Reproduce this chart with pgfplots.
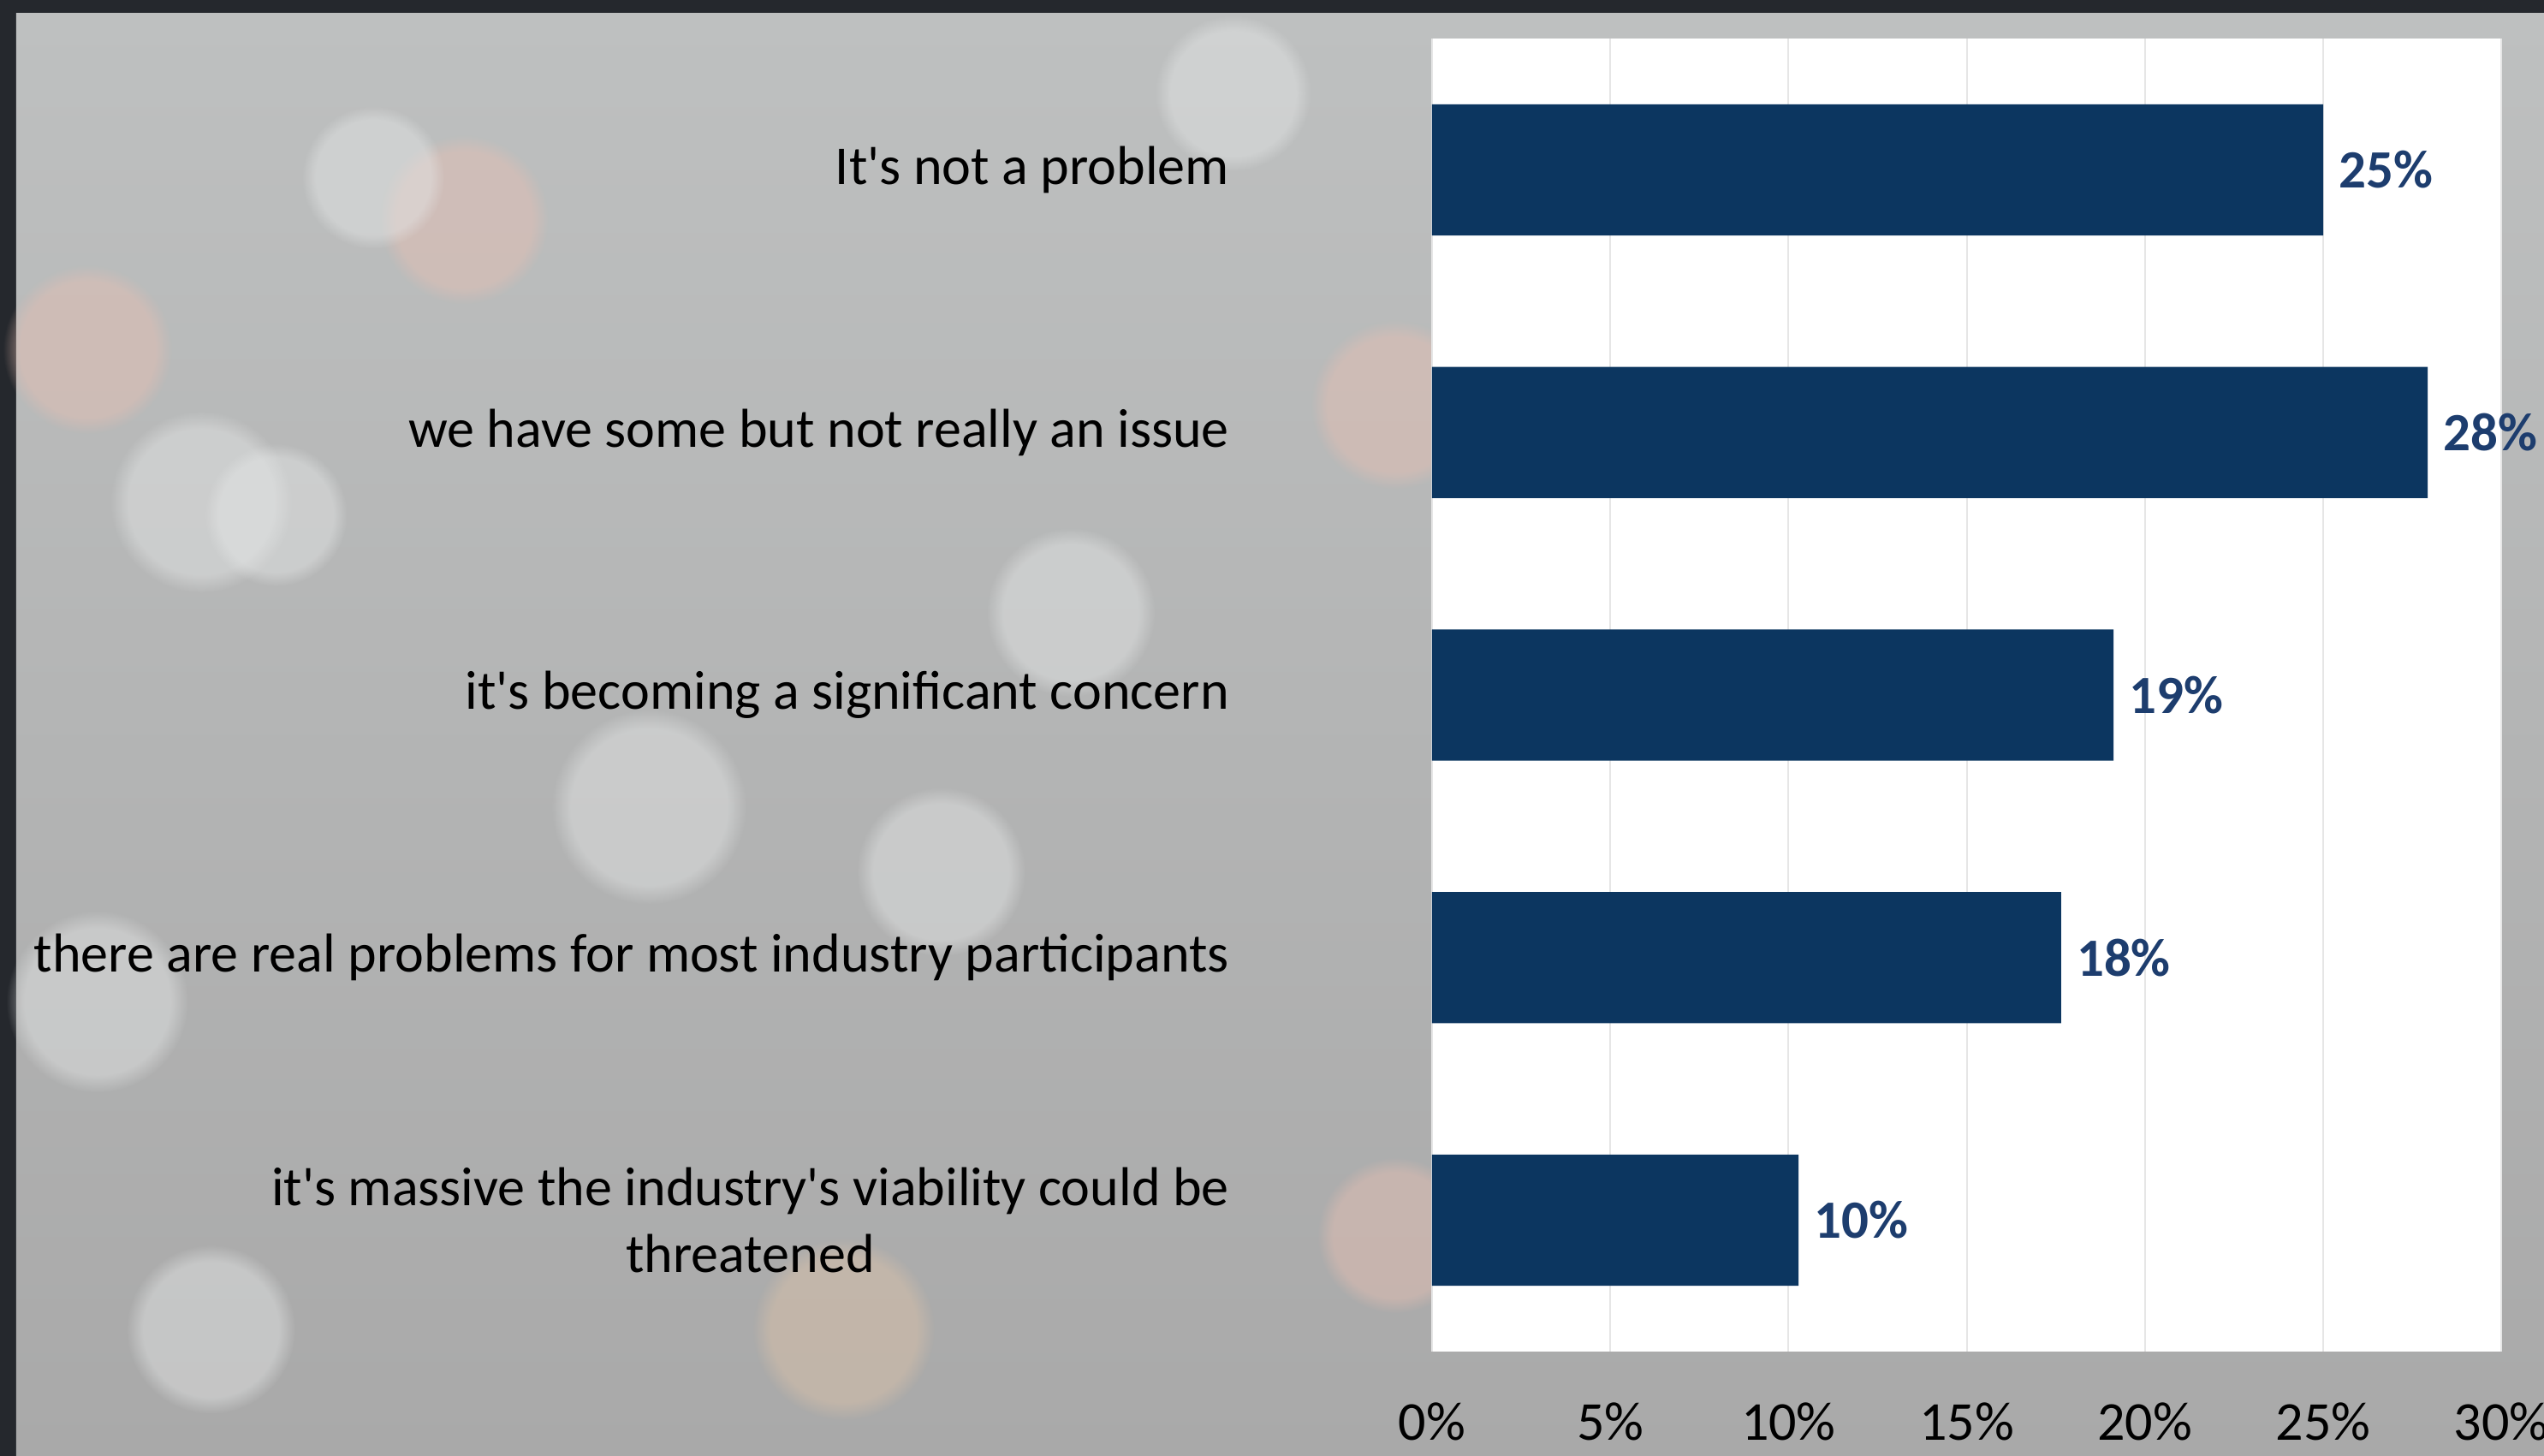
\documentclass[border=0pt]{standalone}
\usepackage{fontspec}
\setmainfont{Carlito}[Ligatures=TeXOff]
\usepackage{pgfplots}
\pgfplotsset{compat=1.18}
\usetikzlibrary{fadings}
\tikzset{bokeh/.style={path fading=circle with fuzzy edge 20 percent}}
\definecolor{barblue}{HTML}{0C3660}
\definecolor{lblblue}{HTML}{1D3D6E}
\definecolor{darkbg}{HTML}{25282D}
\definecolor{panelTop}{HTML}{BEC0C0}
\definecolor{panelBot}{HTML}{A9A9A9}
\definecolor{pinkb}{HTML}{E8BFB2}
\definecolor{whiteb}{HTML}{E6E8E8}
\definecolor{peachb}{HTML}{DEC3A8}
\definecolor{gridgray}{HTML}{E6E6E6}
\begin{document}
\begin{tikzpicture}[x=1pt,y=1pt]
\useasboundingbox (0,0) rectangle (784,448.7);
\begin{scope}
\clip (0,0) rectangle (784,448.7);
\fill[darkbg] (0,0) rectangle (784,448.7);
\shade[top color=panelTop, bottom color=panelBot] (5,0) rectangle (784,444.7);
\begin{scope}[fill opacity=0.45]
\fill[pinkb, bokeh] (27,341) circle (26);
\fill[pinkb, bokeh] (143,381) circle (26);
\fill[whiteb, bokeh] (115,394) circle (22);
\fill[whiteb, bokeh] (62,294) circle (28);
\fill[whiteb, bokeh] (85,290) circle (22);
\fill[pinkb, bokeh] (430,324) circle (26);
\fill[peachb, bokeh] (260,39) circle (28);
\fill[whiteb, bokeh] (65,39) circle (26);
\fill[pinkb, bokeh] (430,68) circle (24);
\fill[whiteb, bokeh] (200,200) circle (30);
\fill[whiteb, bokeh] (330,260) circle (26);
\fill[whiteb, bokeh] (380,420) circle (24);
\fill[whiteb, bokeh] (290,180) circle (26);
\fill[whiteb, bokeh] (30,140) circle (28);
\end{scope}
\end{scope}
\begin{axis}[
  at={(441.3pt,32.2pt)}, anchor=south west,
  scale only axis, width=329.6pt, height=404.6pt,
  xbar, bar width=40.45pt,
  xmin=0, xmax=30, ymin=-0.5, ymax=4.5,
  y dir=reverse,
  axis background/.style={fill=white},
  axis line style={draw=none},
  major tick length=0pt,
  tick style={draw=none},
  xmajorgrids, grid style={gridgray, line width=0.5pt},
  xtick={0,5,10,15,20,25,30},
  xticklabels={0\%,5\%,10\%,15\%,20\%,25\%,30\%},
  xticklabel style={font=\fontsize{16.9}{19}\selectfont, anchor=center, inner sep=0pt, yshift=-21.6pt},
  ytick={0,1,2,3,4},
  yticklabels={It's not a problem, we have some but not really an issue, it's becoming a significant concern, there are real problems for most industry participants, {it's massive the industry's viability could be\\threatened}},
  yticklabel style={font=\fontsize{16.9}{20.5}\selectfont, anchor=east, align=center, inner sep=0pt, xshift=-62.3pt},
  /pgf/number format/assume math mode=true,
  point meta=x,
  nodes near coords={\pgfmathprintnumber[fixed,precision=0]{\pgfplotspointmeta}\%},
  nodes near coords style={font=\fontsize{16.6}{19}\selectfont\bfseries, color=lblblue, anchor=west, inner sep=0pt, xshift=4.6pt},
]
\addplot[fill=barblue, draw=none] coordinates {(25.0,0) (27.93,1) (19.12,2) (17.65,3) (10.28,4)};
\end{axis}
\end{tikzpicture}
\end{document}
